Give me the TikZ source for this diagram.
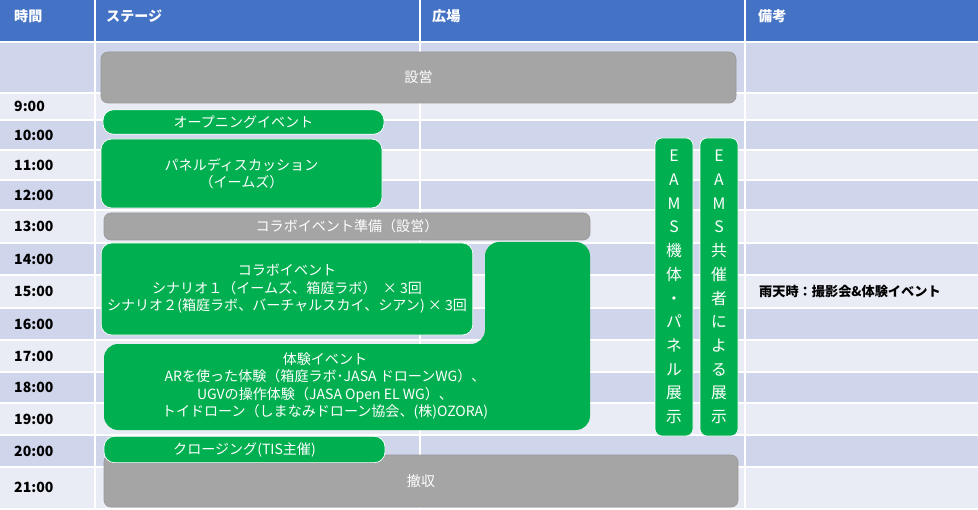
\documentclass[tikz,border=0pt]{standalone}
\usepackage{fontspec}
\setmainfont{Noto Sans CJK JP}
\usetikzlibrary{positioning}
\definecolor{hdblue}{HTML}{4472C4}
\definecolor{rowdark}{HTML}{CFD5EA}
\definecolor{rowlight}{HTML}{E9EBF5}
\definecolor{evgreen}{HTML}{00B050}
\definecolor{prepgray}{HTML}{A5A5A5}
\tikzset{
  evbox/.style={fill=evgreen, draw=white, rounded corners=6pt, text=white, align=center, font=\fontsize{8}{10}\selectfont},
  prepbox/.style={fill=prepgray, draw=gray!80, rounded corners=4pt, text=white, align=center, font=\fontsize{8}{10}\selectfont},
  hdlabel/.style={anchor=west, text=white, font=\bfseries\fontsize{8}{10}\selectfont},
  timelabel/.style={anchor=west, font=\bfseries\fontsize{8}{10}\selectfont},
}
\begin{document}
\begin{tikzpicture}[x=0.02cm, y=-0.02cm]
\useasboundingbox (0, 0) rectangle (978, 510);
% table
\fill[hdblue] (0, 0) rectangle (978, 42);
\fill[rowdark] (0, 42) rectangle (978, 93);
\foreach \ya/\yb/\t [count=\i] in {93/120/9:00, 120/150/10:00, 150/180/11:00, 180/210/12:00,
  210/243/13:00, 243/275/14:00, 275/308/15:00, 308/340/16:00, 340/372/17:00,
  372/403/18:00, 403/435/19:00, 435/467/20:00, 467/508/21:00}{
  \pgfmathsetmacro\odd{mod(\i, 2)}
  \ifdim\odd pt=1pt \fill[rowlight] (0, \ya) rectangle (978, \yb);
  \else \fill[rowdark] (0, \ya) rectangle (978, \yb); \fi
  \draw[white, thick] (0, \ya) -- (978, \ya);
  \node[timelabel] (t\i) at (8, {(\ya+\yb)/2}) {\t};
}
\draw[white, thick] (0, 42) -- (978, 42);
\foreach \x in {95, 420, 745}{\draw[white, thick] (\x, 0) -- (\x, 510);}
\node[hdlabel] (hTime) at (8, 16) {時間};
\node[hdlabel] (hStage) at (100, 16) {ステージ};
\node[hdlabel] (hPlaza) at (426, 16) {広場};
\node[hdlabel] (hNote) at (752, 16) {備考};
% events
\node[prepbox, minimum width=635*0.02cm, minimum height=51*0.02cm] (setup) at (418.5, 77.5) {設営};
\node[evbox, minimum width=281*0.02cm, minimum height=24*0.02cm] (opening) at (243.5, 122) {オープニングイベント};
\node[evbox, minimum width=281*0.02cm, minimum height=69*0.02cm] (panel) at (241.5, 173.5) {パネルディスカッション\\（イームズ）};
\node[prepbox, minimum width=486*0.02cm, minimum height=27*0.02cm] (collabprep) at (347, 226.5) {コラボイベント準備（設営）};
\node[evbox, minimum width=366*0.02cm, minimum height=92*0.02cm] (collab) at (287, 289) {コラボイベント\\シナリオ１（イームズ、箱庭ラボ）\ \ ×\ 3回\\シナリオ２(箱庭ラボ、バーチャルスカイ、シアン)\ ×\ 3回};
\fill[evgreen, rounded corners=8pt] (104, 344) -- (485, 344) -- (485, 242) -- (590, 242) -- (590, 430) -- (104, 430) -- cycle;
\node[align=center, text=white, font=\fontsize{8}{10}\selectfont] (taiken) at (325, 386) {体験イベント\\ARを使った体験（箱庭ラボ･JASA ドローンWG）、\\UGVの操作体験（JASA Open EL WG）、\\トイドローン（しまなみドローン協会、(株)OZORA)};
\node[prepbox, minimum width=634*0.02cm, minimum height=52*0.02cm] (teardown) at (421, 481) {撤収};
\node[evbox, minimum width=281*0.02cm, minimum height=25*0.02cm] (closing) at (244.5, 449.5) {クロージング(TIS主催)};
\node[evbox, rounded corners=4pt, minimum width=38*0.02cm, minimum height=298*0.02cm, font=\fontsize{9}{13.5}\selectfont] (eamsA) at (674, 287) {E\\A\\M\\S\\機\\体\\・\\パ\\ネ\\ル\\展\\示};
\node[evbox, rounded corners=4pt, minimum width=38*0.02cm, minimum height=298*0.02cm, font=\fontsize{9}{13.5}\selectfont] (eamsB) at (719, 287) {E\\A\\M\\S\\共\\催\\者\\に\\よ\\る\\展\\示};
\node[anchor=west, font=\bfseries\fontsize{7.5}{9}\selectfont] (rain) at (753, 292) {雨天時：撮影会\&体験イベント};
\end{tikzpicture}
\end{document}
